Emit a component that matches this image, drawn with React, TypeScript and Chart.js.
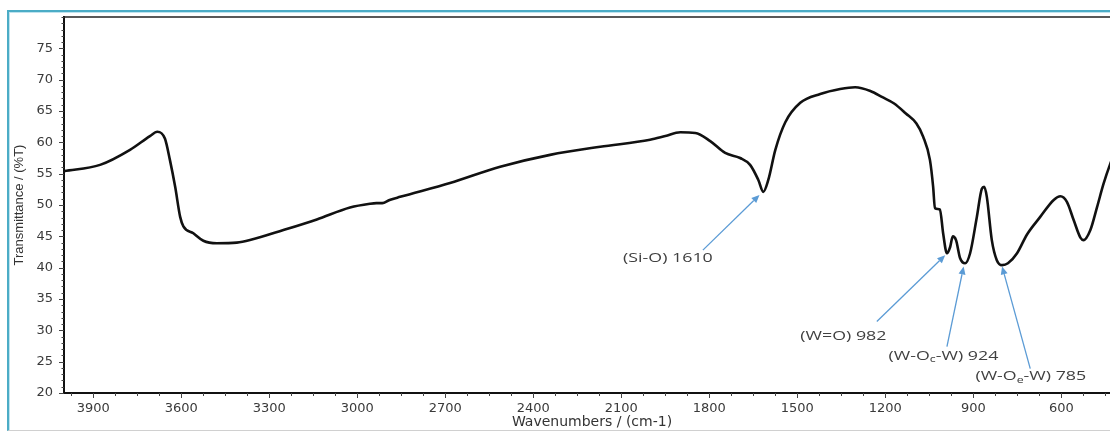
import React, { useEffect, useRef } from "react";
import { Chart, registerables } from "chart.js";

Chart.register(...registerables);

// ---- data ----
const wavenumbers = [
  4000, 3877, 3775, 3707, 3682, 3656, 3639, 3621, 3604, 3593, 3559, 3525, 3479, 3411, 3366,
  3252, 3138, 3025, 2957, 2935, 2915, 2890, 2854, 2684, 2513, 2343, 2172, 2002, 1950, 1899,
  1848, 1797, 1746, 1695, 1661, 1633, 1616, 1599, 1575, 1541, 1490, 1422, 1354, 1303, 1251,
  1210, 1170, 1130, 1094, 1071, 1048, 1037, 1031, 1014, 1003, 990, 979, 970, 959, 945, 928, 911,
  888, 871, 863, 854, 837, 820, 802, 782, 751, 717, 672, 626, 603, 581, 558, 535, 524, 501,
  478, 456, 433, 400,
];
const transmittance = [
  55.4, 56.4, 58.8, 61.0, 61.7, 60.6, 57.2, 52.9, 48.1, 46.6, 45.5, 44.3, 43.9, 44.0, 44.4,
  46.0, 47.7, 49.6, 50.2, 50.3, 50.3, 50.8, 51.3, 53.5, 56.1, 58.0, 59.3, 60.4, 61.0, 61.6,
  61.5, 60.2, 58.3, 57.5, 56.4, 54.0, 52.1, 54.0, 58.8, 63.2, 66.3, 67.7, 68.5, 68.8, 68.2,
  67.2, 66.2, 64.6, 63.0, 60.9, 57.2, 52.9, 49.5, 49.3, 45.5, 42.3, 43.3, 45.0, 44.4, 41.5, 40.7, 42.3,
  48.1, 52.6, 52.9, 51.3, 44.4, 41.2, 40.4, 40.7, 42.3, 45.3, 48.1, 50.8, 51.4, 50.5, 47.6,
  44.8, 44.4, 46.0, 49.7, 53.4, 56.6, 60.5,
];

const xTickLabels = [3900, 3600, 3300, 3000, 2700, 2400, 2100, 1800, 1500, 1200, 900, 600];
const yTickLabels = [20, 25, 30, 35, 40, 45, 50, 55, 60, 65, 70, 75];

const xTitle = "Wavenumbers / (cm-1)";
const yTitle = "Transmittance / (%T)";

// annotations: label parts (sub = subscript), arrow tip, arrow tail, text anchor (data units)
const annParts = [
  [{ t: "(Si-O) 1610" }],
  [{ t: "(W=O) 982" }],
  [{ t: "(W-O" }, { t: "c", sub: true }, { t: "-W) 924" }],
  [{ t: "(W-O" }, { t: "e", sub: true }, { t: "-W) 785" }],
];
const annTipX = [1629, 996, 933, 802];
const annTipY = [51.6, 42.0, 40.2, 40.2];
const annTailX = [1822, 1229, 990, 706];
const annTailY = [42.8, 31.4, 27.4, 23.9];
const annTextX = [2094, 1490, 1189, 893];
const annTextY = [41.5, 29.1, 25.9, 22.6];

const decorPlugin = {
  id: "decor",
  afterDraw(chart: any) {
    const { ctx, chartArea, scales } = chart;
    const xs = scales.x;
    const ys = scales.y;
    ctx.save();
    // tick marks
    ctx.strokeStyle = "#444";
    ctx.lineWidth = 1;
    xs.ticks.forEach((t: any) => {
      const px = Math.round(xs.getPixelForValue(t.value)) + 0.5;
      const major = xTickLabels.includes(t.value);
      ctx.beginPath();
      ctx.moveTo(px, chartArea.bottom);
      ctx.lineTo(px, chartArea.bottom + (major ? 5 : 3));
      ctx.stroke();
    });
    ys.ticks.forEach((t: any) => {
      const py = Math.round(ys.getPixelForValue(t.value)) + 0.5;
      const major = yTickLabels.includes(t.value);
      ctx.beginPath();
      ctx.moveTo(chartArea.left, py);
      ctx.lineTo(chartArea.left - (major ? 5 : 2.5), py);
      ctx.stroke();
    });
    // top frame line
    ctx.strokeStyle = "#222";
    ctx.lineWidth = 1.5;
    ctx.beginPath();
    ctx.moveTo(chartArea.left, chartArea.top);
    ctx.lineTo(chartArea.right, chartArea.top);
    ctx.stroke();

    // annotations
    const blue = "#5b9bd5";
    for (let i = 0; i < annParts.length; i++) {
      const tx = xs.getPixelForValue(annTipX[i]);
      const ty = ys.getPixelForValue(annTipY[i]);
      const sx = xs.getPixelForValue(annTailX[i]);
      const sy = ys.getPixelForValue(annTailY[i]);
      const ang = Math.atan2(ty - sy, tx - sx);
      const hl = 8;
      const hw = 3.5;
      const bx = tx - hl * Math.cos(ang);
      const by = ty - hl * Math.sin(ang);
      ctx.strokeStyle = blue;
      ctx.fillStyle = blue;
      ctx.lineWidth = 1.3;
      ctx.beginPath();
      ctx.moveTo(sx, sy);
      ctx.lineTo(bx, by);
      ctx.stroke();
      ctx.beginPath();
      ctx.moveTo(tx, ty);
      ctx.lineTo(bx + hw * Math.sin(ang), by - hw * Math.cos(ang));
      ctx.lineTo(bx - hw * Math.sin(ang), by + hw * Math.cos(ang));
      ctx.closePath();
      ctx.fill();

      // text (horizontally widened as in the reference)
      const lx = xs.getPixelForValue(annTextX[i]);
      const ly = ys.getPixelForValue(annTextY[i]);
      ctx.save();
      ctx.translate(lx, ly);
      ctx.scale(1.37, 1);
      ctx.fillStyle = "#404040";
      ctx.textBaseline = "middle";
      ctx.textAlign = "left";
      let cx = 0;
      annParts[i].forEach((p: any) => {
        ctx.font = p.sub ? "9px 'Open Sans'" : "13px 'Open Sans'";
        ctx.fillText(p.t, cx, p.sub ? 3.5 : 0);
        cx += ctx.measureText(p.t).width;
      });
      ctx.restore();
    }
    ctx.restore();
  },
};

export default function App() {
  const canvasRef = useRef<HTMLCanvasElement | null>(null);

  useEffect(() => {
    const canvas = canvasRef.current;
    if (!canvas) return;
    const points = wavenumbers.map((w, i) => ({ x: w, y: transmittance[i] }));
    const tickFont = { family: "'DejaVu Sans'", size: 13 };
    const chart = new Chart(canvas, {
      type: "line",
      data: {
        datasets: [
          {
            data: points,
            borderColor: "#111",
            borderWidth: 2.6,
            pointRadius: 0,
            cubicInterpolationMode: "monotone",
            fill: false,
          },
        ],
      },
      options: {
        animation: false,
        responsive: false,
        devicePixelRatio: 1,
        layout: { padding: { left: 0, right: 0, top: 17, bottom: 0 } },
        plugins: { legend: { display: false }, tooltip: { enabled: false } },
        scales: {
          x: {
            type: "linear",
            reverse: true,
            min: 400,
            max: 4000,
            afterBuildTicks: (s: any) => {
              const t = [];
              for (let v = 3975; v >= 400; v -= 75) t.push({ value: v });
              s.ticks = t;
            },
            afterFit: (s: any) => {
              s.height = 39;
            },
            ticks: {
              autoSkip: false,
              maxRotation: 0,
              padding: 3,
              color: "#3a3a3a",
              font: tickFont,
              callback: (v: any) => (xTickLabels.includes(v) ? String(v) : ""),
            },
            grid: {
              display: true,
              drawOnChartArea: false,
              drawTicks: true,
              tickLength: 5,
              tickColor: "rgba(0,0,0,0)",
            },
            border: { display: true, color: "#111", width: 2 },
            title: {
              display: true,
              text: xTitle,
              color: "#333",
              font: { family: "'DejaVu Sans'", size: 14 },
              padding: { top: 0, bottom: 1 },
            },
          },
          y: {
            type: "linear",
            min: 20,
            max: 80,
            afterBuildTicks: (s: any) => {
              const t = [];
              for (let v = 20; v <= 80; v += 1) t.push({ value: v });
              s.ticks = t;
            },
            afterFit: (s: any) => {
              s.width = 64;
            },
            ticks: {
              autoSkip: false,
              padding: 6,
              color: "#3a3a3a",
              font: tickFont,
              callback: (v: any) => (yTickLabels.includes(v) ? String(v) : ""),
            },
            grid: {
              display: true,
              drawOnChartArea: false,
              drawTicks: true,
              tickLength: 5,
              tickColor: "rgba(0,0,0,0)",
            },
            border: { display: true, color: "#111", width: 2 },
            title: {
              display: true,
              text: yTitle,
              color: "#333",
              font: { family: "'Liberation Sans'", size: 13 },
              padding: { top: 12, bottom: 0 },
            },
          },
        },
      },
      plugins: [decorPlugin],
    } as any);
    return () => chart.destroy();
  }, []);

  return (
    <div
      style={{
        position: "fixed",
        left: 0,
        top: 0,
        width: 1110,
        height: 432,
        overflow: "hidden",
        background: "#fff",
      }}
    >
      <div
        style={{
          position: "absolute",
          left: 7,
          top: 10,
          width: 1200,
          height: 418,
          borderLeft: "2px solid #4bacc6",
          borderTop: "2px solid #4bacc6",
          borderBottom: "1px solid #d0d0d0",
          boxShadow: "inset 1px 1px 0 #bfe3ef",
        }}
      />
      <canvas
        ref={canvasRef}
        width={1120}
        height={432}
        style={{ position: "absolute", left: 0, top: 0, width: 1120, height: 432 }}
      />
    </div>
  );
}
